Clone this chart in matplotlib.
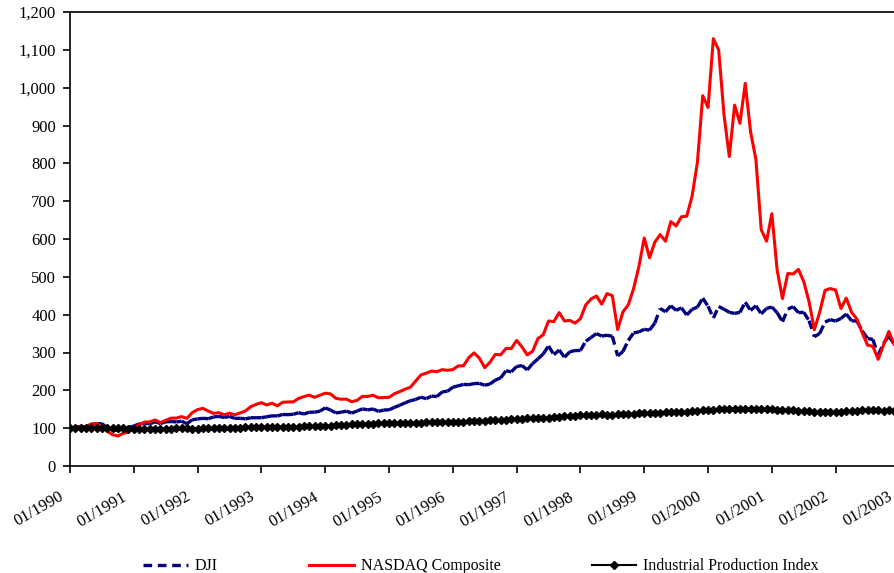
import matplotlib
matplotlib.use("Agg")
import matplotlib.pyplot as plt
import matplotlib.transforms as mtransforms
from matplotlib.collections import LineCollection
from matplotlib.lines import Line2D
from matplotlib.ticker import FuncFormatter, MultipleLocator
import numpy as np

plt.rcParams['font.family'] = ['Liberation Serif', 'DejaVu Serif']

# monthly closes, 01/1990 .. 01/2003
dji = [
    2590.54, 2627.25, 2707.21, 2656.76, 2876.66, 2880.69, 2905.20, 2614.36, 2452.48, 2442.33, 2559.65, 2633.66,
    2736.39, 2882.18, 2913.86, 2887.87, 3027.50, 2906.75, 3024.82, 3043.60, 3016.77, 3069.10, 2894.68, 3168.83,
    3223.39, 3267.67, 3235.47, 3359.12, 3396.88, 3318.52, 3393.78, 3257.35, 3271.66, 3226.28, 3305.16, 3301.11,
    3310.03, 3370.81, 3435.11, 3427.55, 3527.43, 3516.08, 3539.47, 3651.25, 3555.12, 3680.59, 3683.95, 3754.09,
    3978.36, 3832.02, 3635.96, 3681.69, 3758.37, 3624.96, 3764.50, 3913.42, 3843.19, 3908.12, 3739.23, 3834.44,
    3843.86, 4011.05, 4157.69, 4321.27, 4465.14, 4556.10, 4708.47, 4610.56, 4789.08, 4755.48, 5074.49, 5117.12,
    5395.30, 5485.62, 5587.14, 5569.08, 5643.18, 5654.63, 5528.91, 5616.21, 5882.17, 6029.38, 6521.70, 6448.27,
    6813.09, 6877.74, 6583.48, 7008.99, 7331.04, 7672.79, 8222.61, 7622.42, 7945.26, 7442.08, 7823.13, 7908.25,
    7906.50, 8545.72, 8799.81, 9063.37, 8899.95, 8952.02, 8883.29, 7539.07, 7842.62, 8592.10, 9116.55, 9181.43,
    9358.83, 9306.58, 9786.16, 10789.04, 10559.74, 10970.80, 10655.15, 10829.28, 10336.95, 10729.94, 10877.81, 11497.12,
    10940.53, 10128.31, 10921.92, 10733.91, 10522.33, 10447.89, 10521.98, 11215.10, 10650.92, 10971.14, 10414.49, 10787.99,
    10887.36, 10495.28, 9878.78, 10734.97, 10911.94, 10502.40, 10522.81, 9949.75, 8847.56, 9075.14, 9851.56, 10021.50,
    9920.00, 10106.13, 10403.94, 9946.22, 9925.25, 9243.26, 8736.59, 8663.50, 7591.93, 8397.03, 8896.09, 8341.63,
    8053.81,
]

nasdaq = [
    415.81, 425.83, 435.54, 420.07, 458.97, 462.29, 438.24, 381.21, 344.51, 329.84, 359.06, 373.84,
    414.20, 453.05, 482.30, 484.72, 506.11, 475.92, 502.04, 525.68, 526.88, 542.98, 523.90, 586.34,
    620.21, 633.47, 603.77, 578.68, 585.31, 563.60, 580.83, 563.12, 583.27, 605.17, 652.73, 676.95,
    696.34, 670.77, 690.13, 661.42, 700.53, 703.95, 704.70, 742.84, 762.78, 779.26, 754.39, 776.80,
    800.47, 792.50, 743.46, 733.84, 735.19, 705.96, 722.16, 765.62, 764.29, 777.49, 750.32, 751.96,
    755.20, 793.73, 817.21, 843.98, 864.58, 933.45, 1001.21, 1020.11, 1043.54, 1036.06, 1059.20, 1052.13,
    1059.79, 1100.05, 1101.40, 1190.52, 1243.43, 1185.02, 1080.59, 1141.50, 1226.92, 1221.51, 1292.61, 1291.03,
    1379.85, 1309.00, 1221.70, 1260.76, 1400.32, 1442.07, 1593.81, 1587.32, 1685.69, 1593.61, 1600.55, 1570.35,
    1619.36, 1770.51, 1835.68, 1868.41, 1778.87, 1894.74, 1872.39, 1499.25, 1693.84, 1771.39, 1949.54, 2192.69,
    2505.89, 2288.03, 2461.40, 2542.85, 2470.52, 2686.12, 2638.49, 2739.35, 2746.16, 2966.43, 3336.16, 4069.31,
    3940.35, 4696.69, 4572.83, 3860.66, 3400.91, 3966.11, 3766.99, 4206.35, 3672.82, 3369.63, 2597.93, 2470.52,
    2772.73, 2151.83, 1840.26, 2116.24, 2110.49, 2160.54, 2027.13, 1805.43, 1498.80, 1690.20, 1930.58, 1950.40,
    1934.03, 1731.49, 1845.35, 1688.23, 1615.73, 1463.21, 1328.26, 1314.85, 1172.06, 1329.75, 1478.78, 1335.51,
    1320.91,
]

# industrial production, already 01/1990 = 100
ipi = [
    100.0, 100.6, 101.0, 100.7, 101.0, 101.3, 101.1, 101.3, 101.2, 100.5, 99.2, 98.5,
    98.0, 97.4, 96.9, 97.2, 98.0, 98.8, 99.0, 99.1, 99.8, 99.6, 99.3, 98.9,
    98.6, 99.3, 100.0, 100.5, 100.9, 100.7, 101.4, 101.1, 101.4, 102.2, 102.5, 102.8,
    103.3, 103.6, 103.5, 103.9, 103.6, 103.8, 104.1, 104.0, 104.6, 105.2, 105.7, 106.3,
    106.8, 106.9, 107.8, 108.3, 108.9, 109.7, 110.0, 110.5, 110.9, 111.8, 112.4, 113.5,
    113.9, 113.8, 113.9, 113.7, 113.9, 114.2, 114.0, 115.2, 115.6, 115.5, 115.8, 116.2,
    115.8, 117.3, 117.2, 118.4, 119.1, 120.1, 120.2, 120.8, 121.5, 121.7, 122.8, 123.5,
    123.6, 124.9, 125.7, 126.0, 126.5, 127.2, 128.0, 129.4, 130.3, 131.1, 132.1, 132.9,
    134.0, 134.3, 134.8, 135.4, 136.3, 135.8, 135.6, 137.8, 137.6, 138.5, 138.4, 138.9,
    139.6, 140.2, 140.7, 141.3, 142.1, 142.3, 143.1, 143.7, 143.7, 145.3, 146.2, 147.3,
    148.0, 148.8, 149.7, 150.7, 151.3, 151.7, 151.6, 151.3, 151.8, 151.2, 151.0, 150.2,
    149.7, 148.9, 148.3, 147.6, 146.8, 145.8, 145.3, 144.8, 143.6, 142.8, 142.1, 142.3,
    142.8, 143.5, 144.3, 145.0, 145.9, 147.0, 146.8, 147.0, 147.3, 146.6, 146.9, 146.2,
    147.0,
]

years = list(range(1990, 2004))
tick_labels = ["01/%d" % y for y in years]

# rebase to 01/1990 = 100
dji_idx = np.array(dji) / dji[0] * 100
nasdaq_idx = np.array(nasdaq) / nasdaq[0] * 100
t = np.arange(len(dji))

fig = plt.figure(figsize=(8.94, 5.73), dpi=100)
ax = fig.add_axes([70 / 894, 107 / 573, 157 * 5.317 / 894, 454 / 573])

# Excel restarts the dash on every segment, so draw DJI as separate segments
pts = np.column_stack([t, dji_idx])
segs = np.stack([pts[:-1], pts[1:]], axis=1)
dji_lc = LineCollection(segs, colors='#000080', linewidths=2.4,
                        linestyles=[(0, (2.6, 1.7))], capstyle='butt', zorder=2)
ax.add_collection(dji_lc)

ax.plot(t, nasdaq_idx, color='#FF0000', lw=2.2, zorder=3)
ax.plot(t, ipi, color='black', lw=1.5, marker='D', markersize=4.5, zorder=4)

ax.set_xlim(0, 157)
ax.set_ylim(0, 1200)
ax.yaxis.set_major_locator(MultipleLocator(100))
ax.yaxis.set_major_formatter(FuncFormatter(lambda v, p: "{:,.0f}".format(v)))
ax.set_xticks([12 * i for i in range(len(years))])
ax.set_xticklabels(tick_labels, rotation=30, ha='right', va='top', rotation_mode='anchor')

ax.tick_params(axis='both', direction='out', length=5, width=1.2, labelsize=12, colors='black')
ax.tick_params(axis='x', pad=11.5)
ax.tick_params(axis='y', pad=5)
offset = mtransforms.ScaledTranslation(-8.5 / 72, 0, fig.dpi_scale_trans)
for lab in ax.get_xticklabels():
    lab.set_transform(lab.get_transform() + offset)

for s in ax.spines.values():
    s.set_linewidth(1.2)
    s.set_color('black')

handles = [
    Line2D([], [], color='#000080', lw=2.4, linestyle=(0, (2.6, 1.7)), dash_capstyle='butt'),
    Line2D([], [], color='#FF0000', lw=2.2),
    Line2D([], [], color='black', lw=1.5, marker='D', markersize=4.5),
]
fig.legend(handles, ["DJI", "NASDAQ Composite", "Industrial Production Index"],
           loc='center', bbox_to_anchor=(0.538, 0.012), ncol=3, frameon=False,
           fontsize=11.5, handlelength=2.8, handletextpad=0.45, columnspacing=5.7,
           numpoints=1)

fig.savefig("out.png", dpi=100)
